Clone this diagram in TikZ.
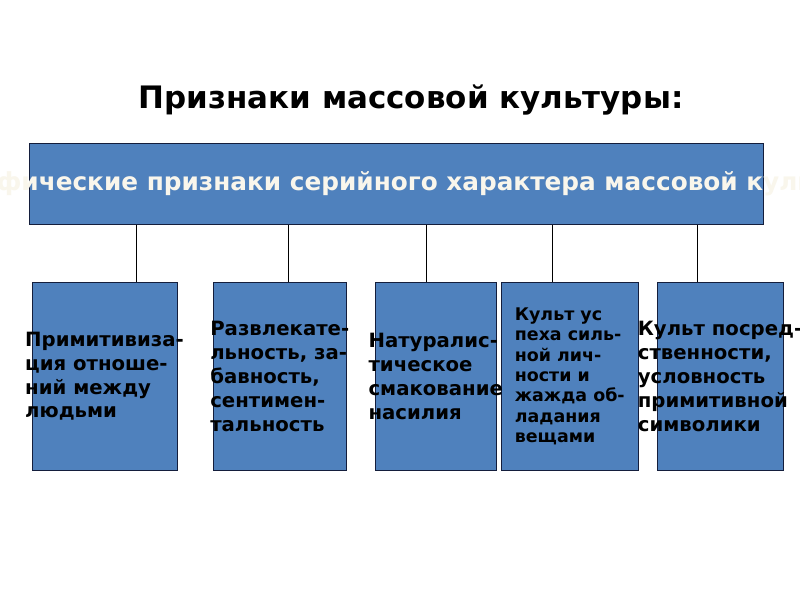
\documentclass[tikz,border=0pt]{standalone}
\usepackage{fontspec}
\setmainfont{DejaVu Sans}
\usetikzlibrary{positioning}
\definecolor{boxblue}{RGB}{79,129,189}
\definecolor{boxline}{RGB}{20,30,60}
\definecolor{cream}{RGB}{249,246,236}

\begin{document}
\begin{tikzpicture}[x=0.025cm, y=-0.025cm,
    box/.style={draw=boxline, fill=boxblue, line width=0.7pt, anchor=north west, inner sep=0pt, minimum height=4.7125cm},
    sign/.style={align=left, inner sep=0pt, font=\bfseries\fontsize{14}{17}\selectfont},
    smallsign/.style={align=left, inner sep=0pt, font=\bfseries\fontsize{12.4}{14.5}\selectfont}]
        \useasboundingbox[fill=white] (0,0) rectangle (800,600);
        % Title
        \node[font=\bfseries\fontsize{22}{26}\selectfont] (title) at (411,100) {Признаки массовой культуры:};
        % Header
        \node[draw=boxline, fill=boxblue, line width=0.7pt, anchor=north west, inner sep=0pt, minimum width=18.3375cm, minimum height=2.025cm] (head) at (29,142.5) {};
        \node[text=cream, font=\bfseries\fontsize{17.6}{20}\selectfont] (headtext) at (head.center) {Специфические признаки серийного характера массовой культуры};
        % Boxes
        \node[box, minimum width=3.625cm] (b1) at (31.5,281.5) {};
        \node[box, minimum width=3.3125cm] (b2) at (213,281.5) {};
        \node[box, minimum width=3.0125cm] (b3) at (375,281.5) {};
        \node[box, minimum width=3.4375cm] (b4) at (500.5,281.5) {};
        \node[box, minimum width=3.15cm] (b5) at (656.5,281.5) {};
        % Texts
        \node[sign] (t1) at (b1.center) {Примитивиза-\\ция отноше-\\ний между\\людьми};
        \node[sign] (t2) at (b2.center) {Развлекате-\\льность, за-\\бавность,\\сентимен-\\тальность};
        \node[sign] (t3) at (b3.center) {Натуралис-\\тическое\\смакование\\насилия};
        \node[smallsign] (t4) at (b4.center) {Культ ус\\пеха силь-\\ной лич-\\ности и\\жажда об-\\ладания\\вещами};
        \node[sign] (t5) at (b5.center) {Культ посред-\\ственности,\\условность\\примитивной\\символики};
        % Lines
        \foreach \b/\x in {b1/136, b2/288, b3/426, b4/552, b5/697}
            \draw[line width=0.7pt] (head.south -| \x,0) -- (\b.north -| \x,0);
\end{tikzpicture}
\end{document}
